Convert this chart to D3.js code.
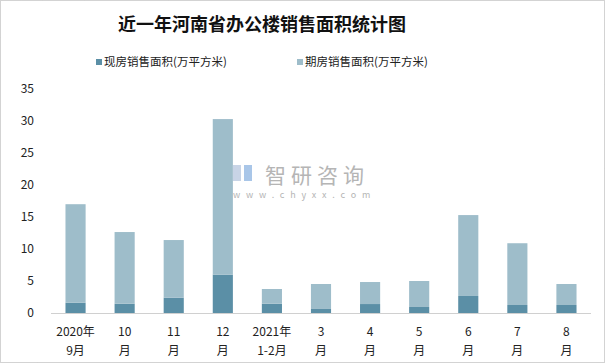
<!DOCTYPE html>
<meta charset="utf-8">
<script src="https://d3js.org/d3.v7.js"></script>
<style>
  body { margin: 0; background: white; }
  svg text { font-family: "Noto Sans CJK SC", "DejaVu Sans", sans-serif; }
</style>
<div id="chart"></div>
<script>
  // months along the x axis (two lines each)
  var months = [["2020年", "9月"], ["10", "月"], ["11", "月"], ["12", "月"], ["2021年", "1-2月"],
                ["3", "月"], ["4", "月"], ["5", "月"], ["6", "月"], ["7", "月"], ["8", "月"]];
  // 现房销售面积 (万平方米)
  var xianfang = [1.6, 1.45, 2.4, 6.0, 1.45, 0.63, 1.4, 0.94, 2.66, 1.25, 1.25];
  // 期房销售面积 (万平方米)
  var qifang = [15.4, 11.2, 9.0, 24.3, 2.3, 3.9, 3.44, 4.06, 12.64, 9.65, 3.28];
  var seriesNames = ["现房销售面积(万平方米)", "期房销售面积(万平方米)"];
  var yTicks = [0, 5, 10, 15, 20, 25, 30, 35];

  var width = 606, height = 364;
  var colors = ["#5b8fa6", "#9ebdca"];

  var svg = d3.select("#chart").append("svg")
    .attr("width", width)
    .attr("height", height);

  // outer dashed frame
  svg.append("rect")
    .attr("x", 0.5).attr("y", 0.5)
    .attr("width", width - 2).attr("height", height - 2)
    .attr("fill", "white")
    .attr("stroke", "#a6a6a6")
    .attr("stroke-dasharray", "1,1");

  // title
  svg.append("text")
    .attr("x", 262).attr("y", 31)
    .attr("text-anchor", "middle")
    .attr("font-size", 18)
    .attr("font-weight", "bold")
    .attr("fill", "#111")
    .text("近一年河南省办公楼销售面积统计图");

  // legend
  var legendX = [96, 297];
  seriesNames.forEach(function(name, i) {
    svg.append("rect")
      .attr("x", legendX[i]).attr("y", 59)
      .attr("width", 6).attr("height", 6)
      .attr("fill", colors[i]);
    svg.append("text")
      .attr("x", legendX[i] + 8).attr("y", 66)
      .attr("font-size", 11.5)
      .attr("fill", "#222")
      .text(name);
  });

  var x = d3.scaleBand()
    .domain(d3.range(months.length))
    .range([51, 591])
    .paddingInner(0.59)
    .paddingOuter(0.295);

  var y = d3.scaleLinear()
    .domain([0, 35])
    .range([313, 89]);

  // watermark
  var wm = svg.append("g").attr("fill", "#b5b5b5");
  wm.append("rect").attr("x", 233).attr("y", 165).attr("width", 8).attr("height", 16).attr("fill", "#c8d4e6");
  wm.append("rect").attr("x", 244).attr("y", 165).attr("width", 8).attr("height", 16).attr("fill", "#a9c6e8");
  wm.append("text").attr("x", 265).attr("y", 183).attr("font-size", 21)
    .attr("letter-spacing", 5).text("智研咨询");
  wm.append("text").attr("x", 233).attr("y", 198).attr("font-size", 9)
    .attr("letter-spacing", 5.8).text("www.chyxx.com");

  // y axis labels
  svg.append("g")
    .selectAll("text")
    .data(yTicks)
    .enter()
    .append("text")
      .attr("x", 34)
      .attr("y", function(d) { return y(d) + 4; })
      .attr("text-anchor", "end")
      .attr("font-size", 12)
      .attr("fill", "#222")
      .text(function(d) { return d; });

  // stacked bars
  var rows = months.map(function(m, i) { return { i: i, a: xianfang[i], b: qifang[i] }; });
  var stack = d3.stack().keys(["a", "b"])(rows);

  svg.append("g")
    .selectAll("g")
    .data(stack)
    .enter()
    .append("g")
      .attr("fill", function(d, i) { return colors[i]; })
    .selectAll("rect")
    .data(function(d) { return d; })
    .enter()
    .append("rect")
      .attr("x", function(d) { return x(d.data.i); })
      .attr("width", x.bandwidth())
      .attr("y", function(d) { return y(d[1]); })
      .attr("height", function(d) { return y(d[0]) - y(d[1]); });

  // baseline
  svg.append("line")
    .attr("x1", 51).attr("x2", 591)
    .attr("y1", 313.5).attr("y2", 313.5)
    .attr("stroke", "#d0d0d0");

  // x axis labels
  var xl = svg.append("g")
    .selectAll("text")
    .data(months)
    .enter()
    .append("text")
      .attr("text-anchor", "middle")
      .attr("font-size", 12)
      .attr("fill", "#222");
  xl.append("tspan")
    .attr("x", function(d, i) { return x(i) + x.bandwidth() / 2; })
    .attr("y", 336)
    .text(function(d) { return d[0]; });
  xl.append("tspan")
    .attr("x", function(d, i) { return x(i) + x.bandwidth() / 2; })
    .attr("y", 355)
    .text(function(d) { return d[1]; });
</script>
